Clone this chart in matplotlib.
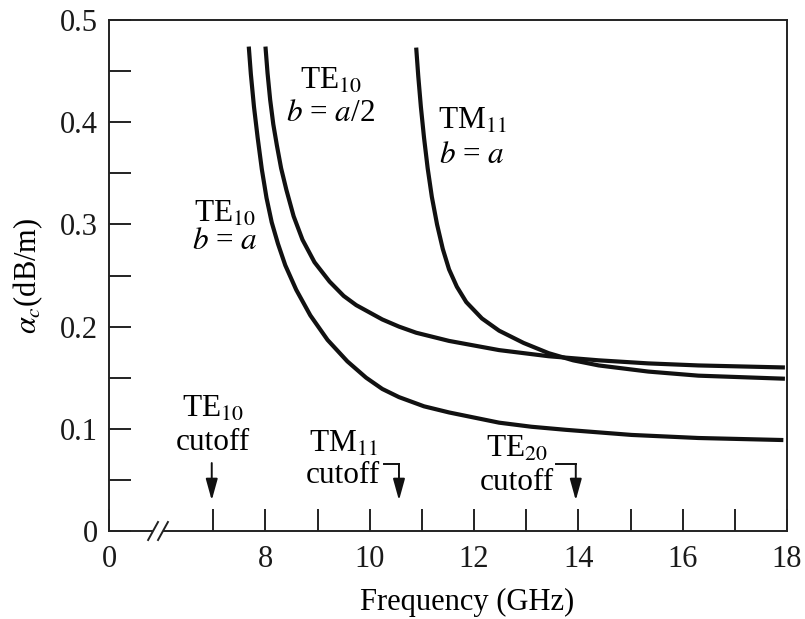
import matplotlib
matplotlib.use("Agg")
import matplotlib.pyplot as plt
from matplotlib.patches import Polygon

plt.rcParams['font.family'] = ['Liberation Serif', 'DejaVu Serif']
plt.rcParams['mathtext.fontset'] = 'stix'

# ---- data ----
te10_a_f = [7.68, 7.72, 7.78, 7.85, 7.93, 8.02, 8.12, 8.24, 8.38, 8.59, 8.86, 9.19,
            9.57, 9.93, 10.24, 10.56, 11.04, 11.52, 12.00, 12.48, 13.10, 13.76,
            15.02, 16.30, 17.93]
te10_a_alpha = [0.474, 0.447, 0.415, 0.385, 0.354, 0.326, 0.302, 0.281, 0.260, 0.236,
                0.211, 0.187, 0.166, 0.150, 0.139, 0.131, 0.122, 0.116, 0.111, 0.106,
                0.102, 0.099, 0.094, 0.091, 0.089]

te10_a2_f = [8.00, 8.04, 8.09, 8.15, 8.22, 8.30, 8.40, 8.54, 8.71, 8.94, 9.23, 9.50,
             9.74, 9.99, 10.24, 10.56, 10.89, 11.52, 12.48, 13.43, 14.39, 15.34,
             16.30, 17.96]
te10_a2_alpha = [0.474, 0.448, 0.422, 0.398, 0.377, 0.355, 0.334, 0.308, 0.285, 0.263,
                 0.244, 0.230, 0.221, 0.214, 0.207, 0.200, 0.194, 0.186, 0.177, 0.171,
                 0.167, 0.164, 0.162, 0.160]

tm11_f = [10.89, 10.93, 10.98, 11.04, 11.11, 11.19, 11.29, 11.40, 11.52, 11.67, 11.85,
          12.15, 12.48, 12.95, 13.43, 13.90, 14.39, 15.34, 16.30, 17.96]
tm11_alpha = [0.473, 0.445, 0.415, 0.385, 0.355, 0.327, 0.300, 0.276, 0.256, 0.239,
              0.224, 0.208, 0.196, 0.184, 0.174, 0.167, 0.162, 0.156, 0.152, 0.149]

cutoff_freqs = [6.97, 10.56, 13.95]
cutoff_modes = ['TE$_{10}$', 'TM$_{11}$', 'TE$_{20}$']

x_major_ticks = [5, 8, 10, 12, 14, 16, 18]
x_major_labels = ['0', '8', '10', '12', '14', '16', '18']
x_minor_ticks = [7, 9, 11, 13, 15, 17]
y_ticks = [0, 0.1, 0.2, 0.3, 0.4, 0.5]
y_labels = ['0', '0.1', '0.2', '0.3', '0.4', '0.5']
y_minor_ticks = [0.05, 0.15, 0.25, 0.35, 0.45]

# ---- figure ----
W, H = 805, 619
fig = plt.figure(figsize=(W / 100, H / 100), dpi=100)
ax = fig.add_axes([109 / W, (H - 531) / H, (787 - 109) / W, (531 - 20) / H])

ink = '#111111'
lw_curve = 3.0
for fx, ay in ((te10_a_f, te10_a_alpha), (te10_a2_f, te10_a2_alpha), (tm11_f, tm11_alpha)):
    ax.plot(fx, ay, color=ink, lw=lw_curve, solid_capstyle='butt', solid_joinstyle='round')

ax.set_xlim(5, 18)
ax.set_ylim(0, 0.5)

ax.set_xticks(x_major_ticks)
ax.set_xticklabels(x_major_labels)
ax.set_xticks(x_minor_ticks, minor=True)
ax.set_yticks(y_ticks)
ax.set_yticklabels(y_labels)
ax.set_yticks(y_minor_ticks, minor=True)

for which in ('major', 'minor'):
    ax.tick_params(axis='both', which=which, direction='in', length=15.5, width=1.4,
                   color='#222222', labelsize=22, labelcolor='#1a1a1a')
ax.tick_params(axis='x', which='major', pad=10)
ax.tick_params(axis='y', which='major', pad=8)

for s in ax.spines.values():
    s.set_linewidth(1.4)
    s.set_color('#222222')

# axis break marks on the x axis
brk = Polygon([(5.75, -0.0088), (5.94, 0.0088), (6.13, 0.0088), (5.94, -0.0088)],
              closed=True, facecolor='white', edgecolor='none', clip_on=False, zorder=5)
ax.add_patch(brk)
for x0 in (5.75, 5.94):
    ax.plot([x0, x0 + 0.19], [-0.0088, 0.0088], color='#222222', lw=1.4,
            clip_on=False, zorder=6)

fs = 22.5
# curve labels
ax.text(7.22, 0.303, 'TE$_{10}$', fontsize=fs, ha='center', va='baseline')
ax.text(7.22, 0.276, '$b$ = $a$', fontsize=fs, ha='center', va='baseline')
ax.text(9.25, 0.433, 'TE$_{10}$', fontsize=fs, ha='center', va='baseline')
ax.text(9.25, 0.401, '$b$ = $a$/2', fontsize=fs, ha='center', va='baseline')
ax.text(11.96, 0.394, 'TM$_{11}$', fontsize=fs, ha='center', va='baseline')
ax.text(11.96, 0.360, '$b$ = $a$', fontsize=fs, ha='center', va='baseline')

# cutoff annotations
arrow_kw = dict(arrowstyle='-|>,head_length=0.65,head_width=0.18', color=ink,
                lw=1.4, mutation_scale=20, shrinkA=0, shrinkB=0)
# TE10 cutoff: straight arrow
ax.text(6.99, 0.1115, cutoff_modes[0], fontsize=fs, ha='center', va='baseline')
ax.text(6.99, 0.0793, 'cutoff', fontsize=fs, ha='center', va='baseline')
ax.annotate('', xy=(cutoff_freqs[0], 0.030), xytext=(cutoff_freqs[0], 0.0665),
            arrowprops=arrow_kw)
# TM11 cutoff: bracket arrow
ax.text(9.49, 0.0773, cutoff_modes[1], fontsize=fs, ha='center', va='baseline')
ax.text(9.49, 0.0470, 'cutoff', fontsize=fs, ha='center', va='baseline')
ax.plot([cutoff_freqs[1] - 0.28, cutoff_freqs[1]], [0.0656, 0.0656], color=ink, lw=1.4)
ax.annotate('', xy=(cutoff_freqs[1], 0.030), xytext=(cutoff_freqs[1], 0.0656),
            arrowprops=arrow_kw)
# TE20 cutoff: bracket arrow
ax.text(12.82, 0.0724, cutoff_modes[2], fontsize=fs, ha='center', va='baseline')
ax.text(12.82, 0.0401, 'cutoff', fontsize=fs, ha='center', va='baseline')
ax.plot([cutoff_freqs[2] - 0.38, cutoff_freqs[2]], [0.0656, 0.0656], color=ink, lw=1.4)
ax.annotate('', xy=(cutoff_freqs[2], 0.030), xytext=(cutoff_freqs[2], 0.0656),
            arrowprops=arrow_kw)

# axis labels
fig.text(467 / W, 1 - 610 / H, 'Frequency (GHz)', fontsize=22, ha='center', va='baseline')
fig.text(28 / W, 1 - 276 / H, r'$\alpha_c$(dB/m)', fontsize=22, ha='center',
         va='center', rotation=90)

fig.savefig('out.png', dpi=100)
